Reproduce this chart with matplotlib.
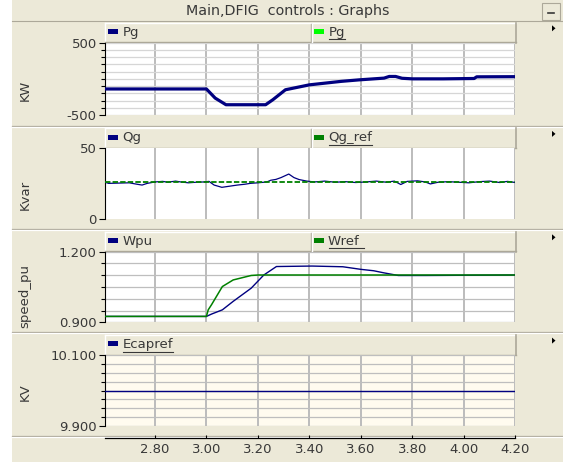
import matplotlib
matplotlib.use("Agg")
import matplotlib.pyplot as plt
from matplotlib.patches import Rectangle, Polygon
from matplotlib.ticker import MultipleLocator

plt.rcParams['font.family'] = ['DejaVu Sans']

W, H = 563, 463

# ==================================================
# data
# ==================================================
x_ticks = [2.80, 3.00, 3.20, 3.40, 3.60, 3.80, 4.00, 4.20]
x_labels = ["2.80", "3.00", "3.20", "3.40", "3.60", "3.80", "4.00", "4.20"]
x_min, x_max = 2.606, 4.20

# Pg (KW)
t_pg = [2.606, 3.00, 3.034, 3.076, 3.23, 3.258, 3.307, 3.40, 3.523, 3.593,
        3.69, 3.71, 3.735, 3.76, 3.80, 3.92, 4.04, 4.05, 4.20]
pg = [-140, -140, -266, -358, -358, -289, -151, -83, -35, -14,
      10, 33, 33, 8, 0, 0, 5, 28, 30]

# Qg / Qg_ref (Kvar)
t_qg = [2.606, 2.62, 2.66, 2.70, 2.73, 2.75, 2.77, 2.80, 2.83, 2.85, 2.88, 2.90,
        2.93, 2.96, 2.99, 3.01, 3.03, 3.06, 3.09, 3.12, 3.15, 3.17, 3.20, 3.235,
        3.25, 3.27, 3.29, 3.32, 3.34, 3.36, 3.39, 3.42, 3.46, 3.50, 3.54, 3.58,
        3.62, 3.66, 3.70, 3.73, 3.755, 3.78, 3.82, 3.85, 3.87, 3.90, 3.94, 3.98,
        4.02, 4.06, 4.10, 4.14, 4.17, 4.20]
qg = [26.0, 25.2, 25.4, 25.6, 24.6, 24.0, 25.2, 26.2, 26.6, 26.0, 26.8, 26.2,
      25.6, 26.0, 26.2, 26.6, 24.0, 22.4, 23.2, 24.0, 24.6, 25.2, 25.6, 26.2,
      27.4, 28.0, 29.3, 31.8, 29.3, 27.9, 26.8, 26.2, 26.8, 26.0, 26.4, 25.8,
      26.2, 26.8, 26.0, 26.8, 24.4, 26.6, 27.0, 26.2, 24.8, 26.0, 26.4, 26.0,
      25.6, 26.4, 26.8, 25.8, 26.6, 25.8]
t_qg_ref = [2.606, 4.20]
qg_ref = [26.4, 26.4]

# Wpu / Wref (speed_pu)
t_wpu = [2.606, 3.00, 3.02, 3.062, 3.104, 3.174, 3.223, 3.272, 3.41, 3.53,
         3.60, 3.65, 3.69, 3.72, 3.745, 3.853, 4.20]
wpu = [0.925, 0.925, 0.935, 0.953, 0.989, 1.045, 1.101, 1.137, 1.139, 1.136,
       1.125, 1.119, 1.110, 1.104, 1.099, 1.099, 1.101]
t_wref = [2.606, 3.00, 3.007, 3.02, 3.062, 3.104, 3.174, 3.202, 4.20]
wref = [0.925, 0.925, 0.953, 0.975, 1.052, 1.080, 1.099, 1.101, 1.101]

# Ecapref (KV)
t_ecap = [2.606, 4.20]
ecapref = [10.0, 10.0]

# ==================================================
# colours / layout (pixels)
# ==================================================
BG = "#ECE9D8"
SHADOW = "#ACA899"
NAVY = "#000080"
GREEN = "#008000"
LIME = "#00FF00"
GRID_V = "#BCBCBC"
TXT = "#383838"

PX0, PX1 = 105, 515.3


def box(x0, y0, x1, y1):
    return [x0 / W, 1 - y1 / H, (x1 - x0) / W, (y1 - y0) / H]


fig = plt.figure(figsize=(W / 100, H / 100), dpi=100)
fig.patch.set_facecolor("white")

ov = fig.add_axes([0, 0, 1, 1], zorder=0)
ov.set_xlim(0, W)
ov.set_ylim(H, 0)
ov.axis("off")

# window background + title bar
ov.add_patch(Rectangle((12, 0), W - 12, 462, fc=BG, ec="none"))
ov.plot([12, W], [21, 21], color=SHADOW, lw=0.8)
ov.text(287.5, 11.5, "Main,DFIG  controls : Graphs", ha="center", va="center",
        fontsize=10.3, color=TXT)
ov.add_patch(Rectangle((542, 3), 18, 17, fc=BG, ec=SHADOW, lw=0.8))
ov.plot([548, 554], [13, 13], color=TXT, lw=1.2)

panels = [
    dict(top=22.7, ptop=42.7, pbot=115, sep=126, ylim=(-500, 500),
         yt=[-500, 500], ytl=["-500", "500"], minor=100, hgrid="#D6D6D6",
         ylabel="KW", ylab_y=90, face="white",
         leg=[("Pg", NAVY, False), ("Pg", LIME, True)]),
    dict(top=128.3, ptop=148.3, pbot=219, sep=229, ylim=(0, 50),
         yt=[0, 50], ytl=["0", "50"], minor=None, hgrid=None,
         ylabel="Kvar", ylab_y=195, face="white",
         leg=[("Qg", NAVY, False), ("Qg_ref", GREEN, True)]),
    dict(top=231.7, ptop=251.7, pbot=322.3, sep=332.3, ylim=(0.9, 1.2),
         yt=[0.9, 1.2], ytl=["0.900", "1.200"], minor=0.05, hgrid="#BEBEBE",
         ylabel="speed_pu", ylab_y=296, face="white",
         leg=[("Wpu", NAVY, False), ("Wref ", GREEN, True)]),
    dict(top=335, ptop=355, pbot=426, sep=436, ylim=(9.9, 10.1),
         yt=[9.9, 10.1], ytl=["9.900", "10.100"], minor=0.025, hgrid="#BEBEBE",
         ylabel="KV", ylab_y=392, face="#FFFBEF",
         leg=[("Ecapref", NAVY, True)]),
]

axes = []
underline_jobs = []
for p in panels:
    # separator under the panel
    ov.plot([12, W], [p["sep"], p["sep"]], color=SHADOW, lw=0.9)
    ov.plot([12, W], [p["sep"] + 1, p["sep"] + 1], color="white", lw=0.9)

    # legend header bar
    top, bot = p["top"], p["ptop"]
    ov.add_patch(Rectangle((PX0, top), 516 - PX0, bot - top, fc=BG, ec="none"))
    ov.plot([PX0, 516], [top, top], color="white", lw=1)
    ov.plot([PX0, PX0], [top, bot], color="white", lw=1)
    ov.plot([516, 516], [top, bot], color=SHADOW, lw=1.2)
    ov.plot([PX0, 516], [bot - 0.5, bot - 0.5], color=SHADOW, lw=1)

    # little arrow at right
    ym = top + 5.6
    ov.add_patch(Polygon([(552, ym - 3), (552, ym + 3), (555.5, ym)], closed=True,
                         fc="black", ec="none"))

    yc = (top + bot) / 2
    for i, (name, col, ul) in enumerate(p["leg"]):
        lx = 108 if i == 0 else 314
        if i == 1:
            ov.plot([310.5, 310.5], [top + 1, bot - 1], color=SHADOW, lw=1)
            ov.plot([311.5, 311.5], [top + 1, bot - 1], color="white", lw=1)
        ov.add_patch(Rectangle((lx, yc - 3.6), 9.5, 4.8, fc=col, ec="none"))
        t = ov.text(lx + 14.5, yc - 0.5, name, ha="left", va="center",
                    fontsize=9.5, color=TXT)
        if ul:
            underline_jobs.append((t, bot - 3.5))

    # y label
    ov.text(25, p["ylab_y"], p["ylabel"], rotation=90, ha="center", va="center",
            fontsize=9.5, color=TXT)

    ax = fig.add_axes(box(PX0, p["ptop"], PX1, p["pbot"]), zorder=2)
    ax.set_facecolor(p["face"])
    ax.set_xlim(x_min, x_max)
    ax.set_ylim(*p["ylim"])
    for s in ["top", "right", "bottom"]:
        ax.spines[s].set_visible(False)
    ax.spines["left"].set_color("black")
    ax.spines["left"].set_linewidth(0.8)
    ax.set_xticks(x_ticks)
    ax.tick_params(axis="x", length=0, labelbottom=False)
    ax.set_yticks(p["yt"])
    ax.set_yticklabels(p["ytl"])
    ax.tick_params(axis="y", which="major", length=4.3, width=0.8, pad=1.6,
                   labelsize=9.5, labelcolor=TXT, color="black")
    ax.set_axisbelow(True)
    ax.grid(axis="x", color=GRID_V, lw=1.4)
    if p["minor"]:
        ax.yaxis.set_minor_locator(MultipleLocator(p["minor"]))
        ax.tick_params(axis="y", which="minor", length=3.0, width=0.8, color="black")
        ax.grid(axis="y", which="both", color=p["hgrid"], lw=0.9)
    axes.append(ax)

ax1, ax2, ax3, ax4 = axes

ax1.plot(t_pg, pg, color=NAVY, lw=2.3, zorder=3)

ax2.plot(t_qg, qg, color=NAVY, lw=0.9, zorder=3)
ax2.plot(t_qg_ref, qg_ref, color=GREEN, lw=1.3, dashes=(3, 1.2), zorder=4)

ax3.plot(t_wpu, wpu, color=NAVY, lw=1.0, zorder=3)
ax3.plot(t_wref, wref, color=GREEN, lw=1.1, zorder=4)

ax4.plot(t_ecap, ecapref, color=NAVY, lw=1.0, zorder=3)

# shared time axis at the bottom
axx = fig.add_axes(box(PX0, 437.3, PX1, 438.3), zorder=2)
axx.patch.set_alpha(0)
axx.set_xlim(x_min, x_max)
axx.set_yticks([])
for s in ["top", "right", "left"]:
    axx.spines[s].set_visible(False)
axx.spines["bottom"].set_linewidth(0.9)
axx.set_xticks(x_ticks)
axx.set_xticklabels(x_labels)
axx.tick_params(axis="x", direction="in", length=2.5, width=0.8, pad=3.5,
                labelsize=9.5, labelcolor=TXT)

# underline the linked legend names
fig.canvas.draw()
r = fig.canvas.get_renderer()
for t, yy in underline_jobs:
    bb = t.get_window_extent(r)
    ov.plot([bb.x0, bb.x1], [yy, yy], color=TXT, lw=0.8)

fig.savefig("out.png", dpi=100, facecolor=fig.get_facecolor())
